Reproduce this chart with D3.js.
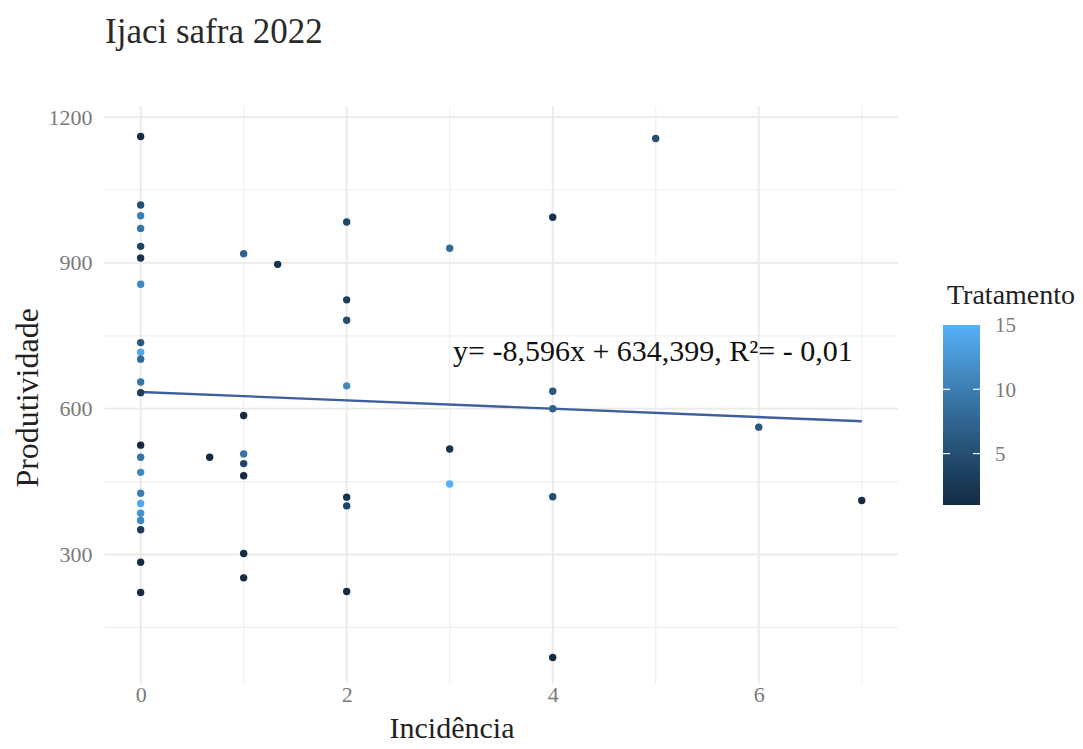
<!DOCTYPE html>
<html>
<head>
<meta charset="utf-8">
<script src="https://cdn.jsdelivr.net/npm/d3@7"></script>
<style>
  html, body { margin: 0; padding: 0; background: #ffffff; }
  svg { display: block; font-family: "Liberation Serif", "Times New Roman", serif; }
</style>
</head>
<body>
<svg id="chart" width="1083" height="749"></svg>
<script>
// Incidência (x), Produtividade (y) and Tratamento (colour) for each plot
const incidencia = [
  0, 0, 0, 0, 0, 0, 0, 0, 0, 0, 0, 0, 0, 0, 0, 0, 0, 0, 0, 0, 0, 0,
  0.67,
  1, 1, 1, 1, 1, 1, 1,
  1.33,
  2, 2, 2, 2, 2, 2, 2,
  3, 3, 3,
  4, 4, 4, 4, 4,
  5, 6, 7
];
const produtividade = [
  1160, 1019, 997, 971, 934, 910, 856, 736, 716, 702, 655, 633, 525, 500, 469, 426, 405, 385, 370, 351, 284, 222,
  500,
  919, 586, 507, 487, 462, 302, 252,
  897,
  984, 824, 782, 647, 418, 400, 224,
  930, 517, 445,
  994, 636, 600, 419, 88,
  1156, 562, 411
];
const tratamento = [
  1, 5, 10, 9, 4, 2, 11, 6, 14, 8, 9, 3, 1, 9, 11, 10, 14, 12, 11, 3, 1, 1,
  1,
  7, 1, 9, 4, 1, 1, 1,
  2,
  4, 3, 5, 11, 2, 4, 1,
  8, 2, 15,
  2, 6, 7, 5, 1,
  5, 6, 1
];

// Fitted line as printed in the annotation
const slope = -8.596;
const intercept = 634.399;
const equationText = "y= -8,596x + 634,399, R²= - 0,01";

const xTicks = [0, 2, 4, 6];
const xMinor = [1, 3, 5, 7];
const yTicks = [300, 600, 900, 1200];
const yMinor = [150, 450, 750, 1050];
const legendTicks = [5, 10, 15];

const titleText = "Ijaci safra 2022";
const xTitle = "Incidência";
const yTitle = "Produtividade";
const legendTitle = "Tratamento";

const points = incidencia.map((d, i) => ({ x: d, y: produtividade[i], t: tratamento[i] }));

const svg = d3.select("#chart");

const panel = { left: 104.6, right: 897.8, top: 105.9, bottom: 683.8 };
const x = d3.scaleLinear().domain([-0.35, 7.35]).range([panel.left, panel.right]);
const y = d3.scaleLinear().domain([34, 1223]).range([panel.bottom, panel.top]);
const color = d3.scaleLinear()
  .domain([1, 15])
  .range(["#132B43", "#56B1F7"])
  .interpolate(d3.interpolateLab);

// Grid
const grid = svg.append("g").attr("class", "grid");
grid.selectAll("line.ymin").data(yMinor).join("line")
  .attr("x1", panel.left).attr("x2", panel.right)
  .attr("y1", d => y(d)).attr("y2", d => y(d))
  .attr("stroke", "#f0f0f0").attr("stroke-width", 1.2);
grid.selectAll("line.xmin").data(xMinor).join("line")
  .attr("y1", panel.top).attr("y2", panel.bottom)
  .attr("x1", d => x(d)).attr("x2", d => x(d))
  .attr("stroke", "#f0f0f0").attr("stroke-width", 1.2);
grid.selectAll("line.ymaj").data(yTicks).join("line")
  .attr("x1", panel.left).attr("x2", panel.right)
  .attr("y1", d => y(d)).attr("y2", d => y(d))
  .attr("stroke", "#eaeaea").attr("stroke-width", 1.8);
grid.selectAll("line.xmaj").data(xTicks).join("line")
  .attr("y1", panel.top).attr("y2", panel.bottom)
  .attr("x1", d => x(d)).attr("x2", d => x(d))
  .attr("stroke", "#eaeaea").attr("stroke-width", 1.8);

// Axes (labels only)
const xAxis = svg.append("g")
  .attr("transform", `translate(0,${panel.bottom + 3})`)
  .call(d3.axisBottom(x).tickValues(xTicks).tickSize(0).tickPadding(0).tickFormat(d3.format("d")));
xAxis.select(".domain").remove();
xAxis.selectAll("text")
  .attr("font-family", "Liberation Serif, serif")
  .attr("font-size", 22).attr("fill", "#7a7a7a").attr("dy", "0.7em");

const yAxis = svg.append("g")
  .attr("transform", `translate(${panel.left - 12},0)`)
  .call(d3.axisLeft(y).tickValues(yTicks).tickSize(0).tickPadding(0).tickFormat(d3.format("d")));
yAxis.select(".domain").remove();
yAxis.selectAll("text")
  .attr("font-family", "Liberation Serif, serif")
  .attr("font-size", 22).attr("fill", "#7a7a7a");

// Regression line
svg.append("line")
  .attr("x1", x(0)).attr("y1", y(intercept))
  .attr("x2", x(7)).attr("y2", y(intercept + slope * 7))
  .attr("stroke", "#3e5f9e").attr("stroke-width", 2.4);

// Points
svg.append("g").selectAll("circle").data(points).join("circle")
  .attr("cx", d => x(d.x)).attr("cy", d => y(d.y))
  .attr("r", 3.7)
  .attr("fill", d => color(d.t));

// Equation annotation
svg.append("text")
  .attr("x", 453).attr("y", 361)
  .attr("font-size", 30).attr("fill", "#111")
  .text(equationText);

// Title
svg.append("text")
  .attr("x", 105).attr("y", 43)
  .attr("font-size", 35).attr("fill", "#2a2a2a")
  .text(titleText);

// Axis titles
svg.append("text")
  .attr("x", 452).attr("y", 738)
  .attr("text-anchor", "middle")
  .attr("font-size", 30).attr("fill", "#222")
  .text(xTitle);

svg.append("text")
  .attr("transform", `translate(38,${(panel.top + panel.bottom) / 2 + 3}) rotate(-90)`)
  .attr("text-anchor", "middle")
  .attr("font-size", 32).attr("fill", "#222")
  .text(yTitle);

// Colour bar legend
const bar = { x: 943, w: 37, top: 325, bottom: 505 };
const ly = d3.scaleLinear().domain([1, 15]).range([bar.bottom, bar.top]);
const defs = svg.append("defs");
const grad = defs.append("linearGradient")
  .attr("id", "tratGrad")
  .attr("x1", 0).attr("y1", 1).attr("x2", 0).attr("y2", 0);
d3.range(0, 1.0001, 0.1).forEach(s => {
  grad.append("stop").attr("offset", s).attr("stop-color", color(1 + 14 * s));
});
const legend = svg.append("g");
legend.append("text")
  .attr("x", 947).attr("y", 304)
  .attr("font-size", 28).attr("fill", "#222")
  .text(legendTitle);
legend.append("rect")
  .attr("x", bar.x).attr("y", bar.top)
  .attr("width", bar.w).attr("height", bar.bottom - bar.top)
  .attr("fill", "url(#tratGrad)");
legend.selectAll("line.tl").data(legendTicks.filter(d => d < 15)).join("line")
  .attr("x1", bar.x).attr("x2", bar.x + 7)
  .attr("y1", d => ly(d)).attr("y2", d => ly(d))
  .attr("stroke", "#ffffff").attr("stroke-width", 1.2);
legend.selectAll("line.tr").data(legendTicks.filter(d => d < 15)).join("line")
  .attr("x1", bar.x + bar.w - 7).attr("x2", bar.x + bar.w)
  .attr("y1", d => ly(d)).attr("y2", d => ly(d))
  .attr("stroke", "#ffffff").attr("stroke-width", 1.2);
legend.selectAll("text.lab").data(legendTicks).join("text")
  .attr("x", bar.x + bar.w + 15)
  .attr("y", d => ly(d))
  .attr("dy", "0.35em")
  .attr("font-size", 21).attr("fill", "#7a7a7a")
  .text(d => d);
</script>
</body>
</html>
